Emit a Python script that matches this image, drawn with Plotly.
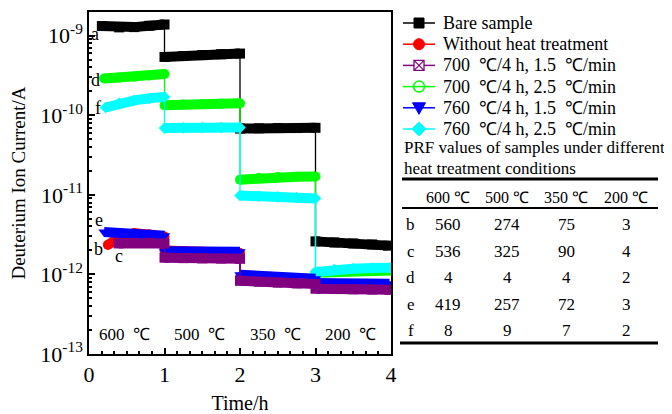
import math
import plotly.graph_objects as go

# ---------------- data ----------------
t_bare = [0.17, 0.4, 0.6, 0.8, 1.0, 1.0, 1.25, 1.5, 1.75, 2.0, 2.0, 2.25, 2.5, 2.75, 3.0, 3.0, 3.25, 3.5, 3.75, 3.96]
i_bare = [1.32e-9, 1.27e-9, 1.28e-9, 1.33e-9, 1.38e-9, 5.4e-10, 5.55e-10, 5.7e-10, 5.85e-10, 5.95e-10,
          6.8e-11, 6.85e-11, 6.9e-11, 6.9e-11, 6.95e-11, 2.6e-12, 2.52e-12, 2.45e-12, 2.38e-12, 2.3e-12]

t_noht = [0.25, 0.4, 0.6, 0.8, 1.0, 1.0, 1.25, 1.5, 1.75, 2.0, 2.0, 2.25, 2.5, 2.75, 3.0, 3.0, 3.25, 3.5, 3.75, 3.98]
i_noht = [2.35e-12, 2.9e-12, 3.3e-12, 3.2e-12, 3.0e-12, 2.0e-12, 1.97e-12, 1.93e-12, 1.9e-12, 1.86e-12,
          9.3e-13, 9.0e-13, 8.7e-13, 8.5e-13, 8.3e-13, 7.2e-13, 7.1e-13, 7.0e-13, 6.9e-13, 6.8e-13]

t_700_15 = [0.39, 0.6, 0.8, 1.0, 1.0, 1.25, 1.5, 1.75, 2.0, 2.0, 2.25, 2.5, 2.75, 3.0, 3.0, 3.25, 3.5, 3.75, 3.98]
i_700_15 = [2.45e-12, 2.5e-12, 2.5e-12, 2.45e-12, 1.62e-12, 1.6e-12, 1.59e-12, 1.58e-12, 1.57e-12,
            8.3e-13, 8.1e-13, 7.9e-13, 7.7e-13, 7.55e-13, 6.6e-13, 6.55e-13, 6.5e-13, 6.45e-13, 6.4e-13]

t_700_25 = [0.2, 0.4, 0.6, 0.8, 1.0, 1.0, 1.25, 1.5, 1.75, 2.0, 2.0, 2.25, 2.5, 2.75, 3.0, 3.0, 3.25, 3.5, 3.75, 3.99]
i_700_25 = [2.9e-10, 2.97e-10, 3.05e-10, 3.15e-10, 3.3e-10, 1.33e-10, 1.36e-10, 1.38e-10, 1.4e-10, 1.41e-10,
            1.55e-11, 1.63e-11, 1.67e-11, 1.69e-11, 1.7e-11, 1.05e-12, 1.08e-12, 1.1e-12, 1.11e-12, 1.12e-12]

t_760_15 = [0.2, 0.4, 0.6, 0.8, 1.0, 1.0, 1.25, 1.5, 1.75, 2.0, 2.0, 2.25, 2.5, 2.75, 3.0, 3.0, 3.25, 3.5, 3.75, 3.98]
i_760_15 = [3.4e-12, 3.3e-12, 3.22e-12, 3.14e-12, 3.06e-12, 1.95e-12, 1.95e-12, 1.94e-12, 1.93e-12, 1.93e-12,
            9.9e-13, 9.6e-13, 9.3e-13, 9.0e-13, 8.8e-13, 7.8e-13, 7.75e-13, 7.7e-13, 7.7e-13, 7.65e-13]

t_760_25 = [0.22, 0.4, 0.6, 0.8, 1.0, 1.0, 1.25, 1.5, 1.75, 2.0, 2.0, 2.25, 2.5, 2.75, 3.0, 3.0, 3.25, 3.5, 3.75, 3.99]
i_760_25 = [1.25e-10, 1.42e-10, 1.54e-10, 1.63e-10, 1.7e-10, 6.9e-11, 6.95e-11, 7.0e-11, 7.0e-11, 7.0e-11,
            9.8e-12, 9.6e-12, 9.4e-12, 9.2e-12, 9.0e-12, 1.07e-12, 1.15e-12, 1.18e-12, 1.2e-12, 1.21e-12]

series_names = ["Bare sample", "Without heat treatment",
                "700\u00a0\u00a0\u2103/4 h, 1.5\u00a0\u00a0\u2103/min",
                "700\u00a0\u00a0\u2103/4 h, 2.5\u00a0\u00a0\u2103/min",
                "760\u00a0\u00a0\u2103/4 h, 1.5\u00a0\u00a0\u2103/min",
                "760\u00a0\u00a0\u2103/4 h, 2.5\u00a0\u00a0\u2103/min"]

stage_labels = ["600\u00a0\u00a0\u2103", "500\u00a0\u00a0\u2103", "350\u00a0\u00a0\u2103", "200\u00a0\u00a0\u2103"]
curve_letters = ["a", "b", "c", "d", "e", "f"]

table_title = ["PRF values of samples under different", "heat treatment conditions"]
table_header = ["600 \u2103", "500 \u2103", "350 \u2103", "200 \u2103"]
table_rows = ["b", "c", "d", "e", "f"]
prf_600 = [560, 536, 4, 419, 8]
prf_500 = [274, 325, 4, 257, 9]
prf_350 = [75, 90, 4, 72, 7]
prf_200 = [3, 4, 2, 3, 2]

# ---------------- styling / layout ----------------
FONT = "Liberation Serif"
OFF = 8                      # page body margin offset of the figure div
W, H = 672 - OFF, 414 - OFF
L, R, T, B = 89, 391, 12, 354   # plot-area box in window pixels


def px(x):
    return (x - L) / (R - L)


def py(y):
    return (B - y) / (B - T)


styles = [
    dict(color="black", symbol="square", msize=10),
    dict(color="#ff0000", symbol="circle", msize=10),
    dict(color="#800080", symbol="square", msize=10),
    dict(color="#00ff00", symbol="circle", msize=10),
    dict(color="#0000ff", symbol="triangle-down", msize=10),
    dict(color="#00ffff", symbol="diamond", msize=9),
]
data = [(t_bare, i_bare), (t_noht, i_noht), (t_700_15, i_700_15),
        (t_700_25, i_700_25), (t_760_15, i_760_15), (t_760_25, i_760_25)]


def split_steps(t, y):
    tt, yy = [], []
    for k in range(len(t)):
        if k > 0 and t[k] == t[k - 1]:
            tt.append(None)
            yy.append(None)
        tt.append(t[k])
        yy.append(y[k])
    return tt, yy


fig = go.Figure()
draw_order = [0, 1, 3, 5, 4, 2]
for k in draw_order:
    t, y = data[k]
    st = styles[k]
    fig.add_trace(go.Scatter(x=t, y=y, mode="lines", showlegend=False, name=series_names[k],
                             line=dict(color=st["color"], width=1.3), hoverinfo="skip"))
    tt, yy = split_steps(t, y)
    fig.add_trace(go.Scatter(x=tt, y=yy, mode="lines+markers", showlegend=False, connectgaps=False,
                             name=series_names[k],
                             line=dict(color=st["color"], width=10),
                             marker=dict(symbol=st["symbol"], size=st["msize"], color=st["color"],
                                         line=dict(width=0))))

ann = []
shapes = []


def label(x, y, s, size, xanchor="center"):
    ann.append(dict(x=px(x), y=py(y), xref="paper", yref="paper", text=s, showarrow=False,
                    xanchor=xanchor, yanchor="middle",
                    font=dict(family=FONT, size=size, color="black")))


# ---- hand-drawn legend (window pixel layout) ----
leg_y0, leg_dy = 23, 21.2
for k in range(6):
    c = styles[k]["color"]
    yc = leg_y0 + leg_dy * k
    shapes.append(dict(type="line", xref="paper", yref="paper", x0=px(403), x1=px(435),
                       y0=py(yc), y1=py(yc), line=dict(color=c, width=1.5)))
    mx = 419
    if k == 0:
        shapes.append(dict(type="rect", xref="paper", yref="paper", x0=px(mx - 5), x1=px(mx + 5),
                           y0=py(yc - 5), y1=py(yc + 5), fillcolor=c, line=dict(color=c, width=1)))
    elif k == 1:
        shapes.append(dict(type="circle", xref="paper", yref="paper", x0=px(mx - 5.5), x1=px(mx + 5.5),
                           y0=py(yc - 5.5), y1=py(yc + 5.5), fillcolor=c, line=dict(color=c, width=1)))
    elif k == 2:
        shapes.append(dict(type="rect", xref="paper", yref="paper", x0=px(mx - 5), x1=px(mx + 5),
                           y0=py(yc - 5), y1=py(yc + 5), fillcolor="white", line=dict(color=c, width=1.3)))
        shapes.append(dict(type="path", xref="paper", yref="paper",
                           path=f"M{px(mx-5)},{py(yc-5)} L{px(mx+5)},{py(yc+5)} M{px(mx-5)},{py(yc+5)} L{px(mx+5)},{py(yc-5)}",
                           line=dict(color=c, width=1.2)))
    elif k == 3:
        shapes.append(dict(type="circle", xref="paper", yref="paper", x0=px(mx - 5.5), x1=px(mx + 5.5),
                           y0=py(yc - 5.5), y1=py(yc + 5.5), line=dict(color=c, width=1.5)))
    elif k == 4:
        shapes.append(dict(type="path", xref="paper", yref="paper",
                           path=f"M{px(mx-6.5)},{py(yc-5)} L{px(mx+6.5)},{py(yc-5)} L{px(mx)},{py(yc+6.5)} Z",
                           fillcolor=c, line=dict(color=c, width=1)))
    else:
        shapes.append(dict(type="path", xref="paper", yref="paper",
                           path=f"M{px(mx)},{py(yc-7)} L{px(mx+7)},{py(yc)} L{px(mx)},{py(yc+7)} L{px(mx-7)},{py(yc)} Z",
                           fillcolor=c, line=dict(color=c, width=1)))
    label(441, yc, series_names[k], 18, "left")

# curve letters
letter_t = [0.08, 0.13, 0.40, 0.09, 0.13, 0.12]
letter_i = [1.05e-9, 2.1e-12, 1.7e-12, 2.8e-10, 4.8e-12, 1.25e-10]
for s, x, y in zip(curve_letters, letter_t, letter_i):
    ann.append(dict(x=x, y=math.log10(y), xref="x", yref="y", text=s, showarrow=False,
                    xanchor="center", yanchor="middle",
                    font=dict(family=FONT, size=18, color="black")))
# stage temperature labels
for k, s in enumerate(stage_labels):
    ann.append(dict(x=k + 0.47, y=-12.76, xref="x", yref="y", text=s, showarrow=False,
                    xanchor="center", yanchor="middle",
                    font=dict(family=FONT, size=17, color="black")))

# ---- table ----
for k, s in enumerate(table_title):
    label(402, 147 + 21 * k, s, 17, "left")
col_x = [448, 507, 566, 626]
for cx, s in zip(col_x, table_header):
    label(cx, 197, s, 16)
row_y = [225, 251, 277, 304, 330]
for r, ry in enumerate(row_y):
    label(411, ry, table_rows[r], 17)
    for cx, col in zip(col_x, [prf_600, prf_500, prf_350, prf_200]):
        label(cx, ry, str(col[r]), 17)

shapes += [
    dict(type="line", xref="paper", yref="paper", x0=px(402), x1=px(658), y0=py(179), y1=py(179),
         line=dict(color="black", width=3)),
    dict(type="line", xref="paper", yref="paper", x0=px(402), x1=px(658), y0=py(208), y1=py(208),
         line=dict(color="black", width=2)),
    dict(type="line", xref="paper", yref="paper", x0=px(400), x1=px(658), y0=py(343), y1=py(343),
         line=dict(color="black", width=3)),
]

ytv = [1e-13, 1e-12, 1e-11, 1e-10, 1e-9]
ytt = ["10<sup>-13</sup>", "10<sup>-12</sup>", "10<sup>-11</sup>", "10<sup>-10</sup>", "10<sup>-9</sup>"]
yminor = [m * 10 ** e for e in range(-13, -8) for m in range(2, 10)]

fig.update_layout(
    width=W, height=H,
    margin=dict(l=L - OFF, r=W - (R - OFF), t=T - OFF, b=H - (B - OFF), pad=0, autoexpand=False),
    paper_bgcolor="white", plot_bgcolor="white",
    font=dict(family=FONT, color="black"),
    showlegend=False,
    annotations=ann, shapes=shapes,
    xaxis=dict(range=[0, 4], tickvals=[0, 1, 2, 3, 4], ticks="inside", ticklen=6, tickwidth=1.5,
               tickcolor="black", showgrid=False, zeroline=False, automargin=False,
               showline=True, linecolor="black", linewidth=1.5, mirror=True,
               tickfont=dict(family=FONT, size=22, color="black"),
               minor=dict(dtick=1 / 6, ticks="inside", ticklen=3, tickcolor="black", showgrid=False),
               title=dict(text="Time/h", font=dict(family=FONT, size=20, color="black"), standoff=14)),
    yaxis=dict(type="log", range=[-13, -8.703], tickvals=ytv, ticktext=ytt, ticks="inside",
               ticklen=6, tickwidth=1.5, tickcolor="black", showgrid=False, zeroline=False,
               showline=True, linecolor="black", linewidth=1.5, mirror=True, automargin=False,
               tickfont=dict(family=FONT, size=22, color="black"),
               minor=dict(tickvals=yminor, ticks="inside", ticklen=3, tickcolor="black", showgrid=False),
               title=dict(text="Deuterium Ion Current/A", font=dict(family=FONT, size=19, color="black"),
                          standoff=10)),
)

fig.write_html("out.html")
